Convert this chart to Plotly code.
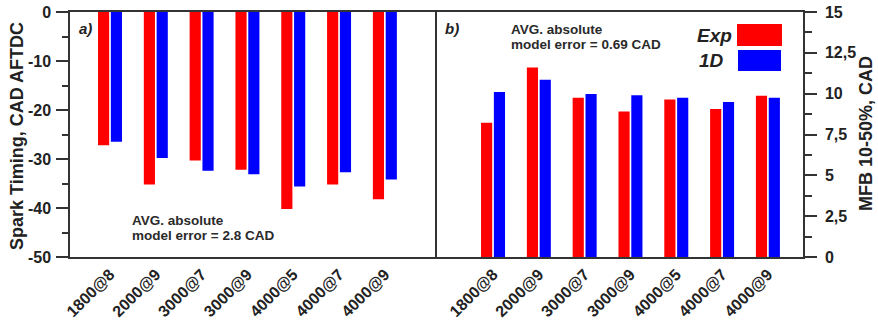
import plotly.graph_objects as go

# Operating points (speed @ load)
cases = ["1800@8", "2000@9", "3000@7", "3000@9", "4000@5", "4000@7", "4000@9"]

# a) Spark timing, CAD AFTDC
spark_exp = [-27.2, -35.2, -30.3, -32.2, -40.2, -35.2, -38.2]
spark_1d = [-26.5, -29.8, -32.4, -33.1, -35.6, -32.7, -34.2]

spark_ticks = [0, -10, -20, -30, -40, -50]
spark_ticktext = ["0", "-10", "-20", "-30", "-40", "-50"]

# b) MFB 10-50 % burn duration, CAD
mfb_exp = [8.22, 11.6, 9.75, 8.91, 9.65, 9.06, 9.87]
mfb_1d = [10.1, 10.85, 9.98, 9.91, 9.75, 9.49, 9.75]

mfb_ticks = [0, 2.5, 5, 7.5, 10, 12.5, 15]
mfb_ticktext = ["0", "2,5", "5", "7,5", "10", "12,5", "15"]

RED = "#ff0000"
BLUE = "#0000ff"
INK = "#222222"
LINE = "#333333"
FONT = "Liberation Sans, Arial, sans-serif"

W, H = 878, 327
ML, MR, MT, MB = 70, 75, 12, 70
PW, PH = W - ML - MR, H - MT - MB


def px(x):
    return (x - ML) / PW


def py(y):
    return (H - MB - y) / PH


fig = go.Figure()
fig.add_trace(go.Bar(x=cases, y=spark_exp, name="Exp", marker=dict(color=RED, line_width=0),
                     xaxis="x", yaxis="y", showlegend=False))
fig.add_trace(go.Bar(x=cases, y=spark_1d, name="1D", marker=dict(color=BLUE, line_width=0),
                     xaxis="x", yaxis="y", showlegend=False))
fig.add_trace(go.Bar(x=cases, y=mfb_exp, name="Exp", marker=dict(color=RED, line_width=0),
                     xaxis="x2", yaxis="y2", showlegend=False))
fig.add_trace(go.Bar(x=cases, y=mfb_1d, name="1D", marker=dict(color=BLUE, line_width=0),
                     xaxis="x2", yaxis="y2", showlegend=False))

tickfont = dict(family=FONT, size=16, color=INK, weight="bold")
xtickfont = dict(family=FONT, size=16, color=INK, weight="bold")
titlefont = dict(family=FONT, size=18, color=INK, weight="bold")

common_x = dict(showline=True, linecolor=LINE, linewidth=1.5, mirror=True, ticks="",
                tickangle=-45, tickfont=xtickfont, showgrid=False, zeroline=False,
                type="category", automargin=False)

fig.update_layout(
    width=W, height=H,
    margin=dict(l=ML, r=MR, t=MT, b=MB, autoexpand=False),
    paper_bgcolor="white", plot_bgcolor="white",
    barmode="group", bargap=0.44, bargroupgap=0.13,
    xaxis=dict(domain=[0, 0.5], anchor="y", range=[-0.873, 7.127], **common_x),
    xaxis2=dict(domain=[0.5, 1], anchor="y2", range=[-1.234, 6.766], **common_x),
    yaxis=dict(
        domain=[0, 1], anchor="x", range=[-50, 0],
        tickmode="array", tickvals=spark_ticks, ticktext=spark_ticktext,
        ticks="outside", ticklen=12, tickwidth=1.5, tickcolor=LINE,
        minor=dict(dtick=5, tick0=0, ticks="outside", ticklen=6, tickwidth=1.5, tickcolor=LINE),
        showline=True, linecolor=LINE, linewidth=1.5, mirror=False,
        showgrid=False, zeroline=False, tickfont=tickfont, ticklabelstandoff=2,
        automargin=False,
    ),
    yaxis2=dict(
        domain=[0, 1], anchor="x2", side="right", range=[0, 15],
        tickmode="array", tickvals=mfb_ticks, ticktext=mfb_ticktext,
        ticks="outside", ticklen=12, tickwidth=1.5, tickcolor=LINE,
        minor=dict(dtick=1.25, tick0=0, ticks="outside", ticklen=7, tickwidth=1.5, tickcolor=LINE),
        showline=True, linecolor=LINE, linewidth=1.5, mirror=True,
        showgrid=False, zeroline=False, tickfont=tickfont, ticklabelstandoff=5,
        automargin=False,
    ),
)

note_font = dict(family=FONT, size=13.5, color="#2a2a2a", weight="bold")
panel_font = dict(family=FONT, size=15, color=INK, weight="bold", style="italic")
legend_font = dict(family=FONT, size=19, color=INK, weight="bold", style="italic")


def label(x, y, text, font, xanchor="left", angle=0):
    fig.add_annotation(x=px(x), y=py(y), xref="paper", yref="paper", text=text,
                       showarrow=False, xanchor=xanchor, yanchor="middle", font=font,
                       textangle=angle)


# Axis titles
label(17, 136, "Spark Timing, CAD AFTDC", titlefont, xanchor="center", angle=-90)
label(866, 134, "MFB 10-50%, CAD", titlefont, xanchor="center", angle=-90)

# Panel tags
label(77, 28, "a)", panel_font)
label(443, 28, "b)", panel_font)

# Average model error notes
label(130, 220, "AVG. absolute", note_font)
label(130, 235, "model error = 2.8 CAD", note_font)
label(509, 29, "AVG. absolute", note_font)
label(509, 44, "model error = 0.69 CAD", note_font)

# Legend: label text with large colour swatches
label(695, 35, "Exp", legend_font)
label(697, 61, "1D", legend_font)
for (x0, y0, x1, y1), col in [((737, 24, 782, 46), RED), ((738, 50, 781, 71), BLUE)]:
    fig.add_shape(type="rect", xref="paper", yref="paper",
                  x0=px(x0), x1=px(x1), y0=py(y1), y1=py(y0),
                  fillcolor=col, line=dict(width=0))

fig.write_html("out.html")
